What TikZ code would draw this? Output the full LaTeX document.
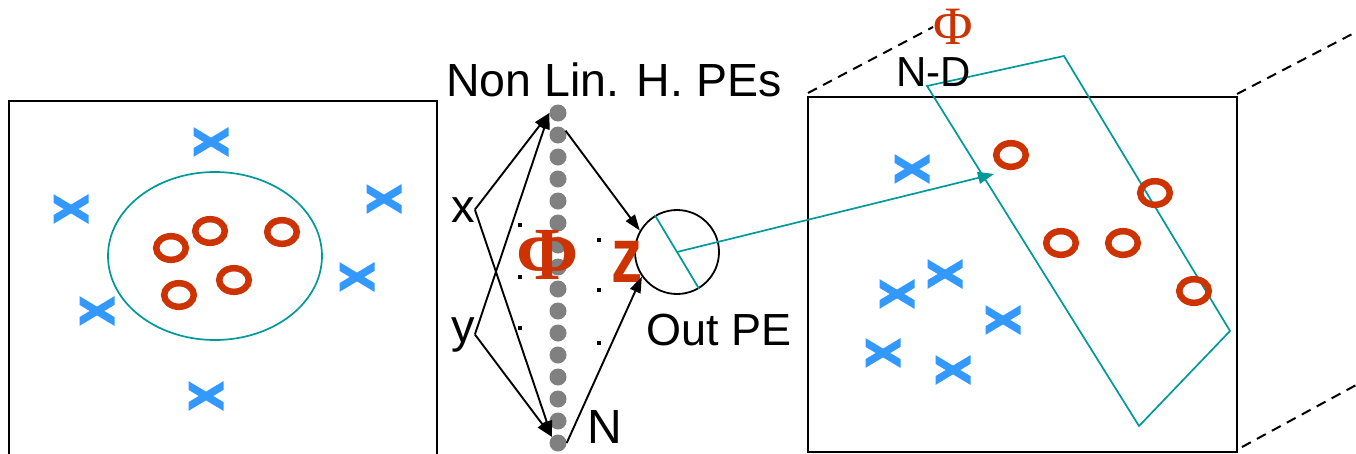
\documentclass[tikz,border=0pt]{standalone}
\usepackage{fontspec}
\setmainfont{Liberation Sans}
\newfontfamily\phifont{Liberation Serif}
\usetikzlibrary{arrows.meta}
\definecolor{myred}{RGB}{204,51,0}
\definecolor{myblue}{RGB}{51,153,255}
\definecolor{myteal}{RGB}{0,153,153}
\definecolor{mygray}{RGB}{128,128,128}
\tikzset{
  xmark/.pic={
    \begin{scope}
      \clip (-17.5,-20) rectangle (17.5,20);
      \draw[myblue,line width=7.5pt] (-21,-12.6) -- (21,12.6) (-21,12.6) -- (21,-12.6);
    \end{scope}
  },
  omark/.pic={
    \draw[myred,line width=6.5pt] (0,0) ellipse [x radius=14.8, y radius=11.8];
  },
  frame/.style={draw=black,line width=2pt},
  persp/.style={draw=black,line width=2pt,dash pattern=on 10pt off 7pt},
  pe/.style={circle,fill=mygray,minimum size=17pt,inner sep=0pt},
  lbl/.style={inner sep=0pt,anchor=base west},
  conn/.style={draw=black,line width=1.9pt,-{Triangle[length=16pt,width=11pt]}},
  tealline/.style={draw=myteal,line width=1.7pt},
  ell/.style={fill=black},
}
\begin{document}
\begin{tikzpicture}[x=1pt,y=-1pt]
\useasboundingbox (0,0) rectangle (1356,453);
\begin{scope}
\clip (0,0) rectangle (1356,453);
% left panel
\draw[frame] (9,101) rectangle (437,470);
\draw[tealline] (215,256) ellipse [x radius=107, y radius=84];
\foreach \p in {(211,142),(71,209),(384,199),(357,277),(97,311),(206,396)}
  \pic at \p {xmark};
\foreach \p in {(171,248),(210,231),(282,232),(179,295),(234,280)}
  \pic at \p {omark};

% right panel
\draw[frame] (808,97) rectangle (1237,452);
\draw[tealline] (927,86) -- (1064,56) -- (1230,331) -- (1139,426) -- cycle;
\foreach \p in {(912,169),(897,294),(945,274),(1003,320),(883,353),(953,370)}
  \pic at \p {xmark};
\foreach \p in {(1011,155),(1155,193),(1061,243),(1123,243),(1194,291)}
  \pic at \p {omark};
\node[inner sep=0pt,text=myred,font=\phifont\fontsize{54}{58}\selectfont] (phiR) at (953,27) {Φ};
\node[lbl,font=\fontsize{42}{50}\selectfont] (nd) at (896,86) {N-D};
\coordinate (cTL) at (808,93);
\coordinate (cTR) at (1237,94);
\coordinate (cBR) at (1242,447);
\coordinate (eTR) at (1358,31);
\coordinate (eBR) at (1358,384);
\draw[persp] (cTL) -- (phiR.west);
\draw[persp] (cTR) -- (eTR);
\draw[persp] (cBR) -- (eBR);

% middle network
\node[lbl,font=\fontsize{46.5}{54}\selectfont] (title) at (446,96) {Non Lin. H. PEs};
\foreach \i in {1,...,16}
  \node[pe] (d\i) at (558,{113+22*(\i-1)}) {};
\node[lbl,font=\fontsize{47}{54}\selectfont] (xl) at (451,222) {x};
\node[lbl,font=\fontsize{47}{54}\selectfont] (yl) at (451,342) {y};
\node[lbl,font=\fontsize{48}{54}\selectfont] (nl) at (587,443) {N};
\node[lbl,font=\fontsize{45}{54}\selectfont] (outl) at (646,345) {Out PE};
\node[circle,draw=black,line width=1.8pt,minimum size=84pt,inner sep=0pt] (out) at (677,252) {};
\node[inner sep=0pt,text=myred,font=\phifont\bfseries\fontsize{75}{80}\selectfont] (phiM) at (548,255) {Φ};
\node[inner sep=0pt,text=myred,font=\bfseries\fontsize{78}{80}\selectfont] (zl) at (627,262) {\scalebox{0.8}[1]{z}};
\foreach \p in {(520,225),(520,277),(520,328),(599,240),(599,290),(599,343)}
  \fill[ell] \p ++(-2,-2) rectangle ++(4,4);

\draw[conn] (xl.east) -- (d1.west);
\draw[conn] (xl.east) -- (d16.north west);
\draw[conn] (yl.east) -- (d1.west);
\draw[conn] (yl.east) -- (d16.north west);
\draw[conn] (d2.30) -- (out.150);
\draw[conn] (d16.east) -- (out.215);

\draw[tealline] (out.121) -- (out.-59);
\coordinate (tipR) at (994,174);
\draw[tealline,-{Triangle[length=16pt,width=12pt]}] (out.center) -- (tipR);
\end{scope}
\end{tikzpicture}
\end{document}
